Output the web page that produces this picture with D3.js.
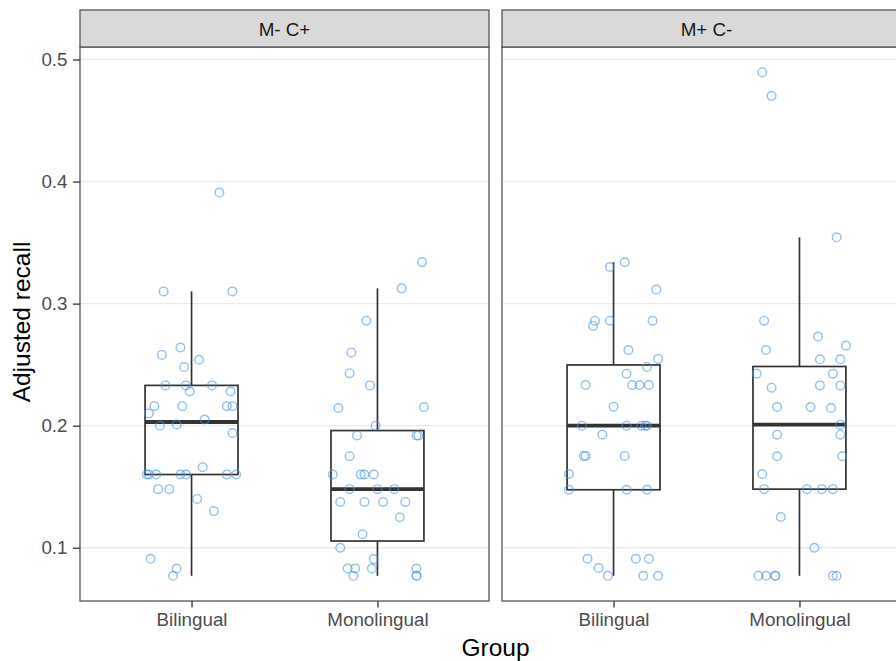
<!DOCTYPE html>
<html>
<head>
<meta charset="utf-8">
<script src="https://cdn.jsdelivr.net/npm/d3@7"></script>
<style>
  body { margin: 0; background: #fff; }
  text { font-family: "Liberation Sans", Arial, sans-serif; }
</style>
</head>
<body>
<svg id="chart" width="896" height="661"></svg>
<script>
const panels = ["M- C+", "M+ C-"];
const groups = ["Bilingual", "Monolingual"];
const yTicks = [0.1, 0.2, 0.3, 0.4, 0.5];

// recall values, with the horizontal jitter (in category units)
const mcBiValues = [0.391, 0.310, 0.310, 0.264, 0.258, 0.254, 0.248, 0.233, 0.233, 0.233, 0.228, 0.228,
  0.216, 0.216, 0.216, 0.216, 0.210, 0.205, 0.200, 0.201, 0.194, 0.166, 0.160, 0.160, 0.160, 0.160,
  0.160, 0.160, 0.160, 0.148, 0.148, 0.140, 0.130, 0.091, 0.083, 0.077];
const mcBiJitter = [0.15, -0.15, 0.22, -0.06, -0.16, 0.04, -0.04, -0.14, -0.03, 0.11, -0.01, 0.21,
  -0.20, -0.05, 0.19, 0.22, -0.23, 0.07, -0.17, -0.08, 0.22, 0.06, -0.24, -0.23, -0.19, -0.06,
  -0.03, 0.19, 0.24, -0.18, -0.12, 0.03, 0.12, -0.22, -0.08, -0.10];

const mcMonoValues = [0.334, 0.3125, 0.286, 0.260, 0.243, 0.233, 0.2145, 0.2153, 0.200, 0.192, 0.192, 0.192,
  0.175, 0.160, 0.160, 0.160, 0.160, 0.148, 0.148, 0.148, 0.1375, 0.1375, 0.1375, 0.1375, 0.125,
  0.111, 0.100, 0.0907, 0.083, 0.083, 0.083, 0.083, 0.077, 0.077, 0.077];
const mcMonoJitter = [0.24, 0.13, -0.06, -0.14, -0.15, -0.04, -0.21, 0.25, -0.01, -0.11, 0.21, 0.22,
  -0.15, -0.24, -0.09, -0.07, -0.02, -0.15, 0.00, 0.09, -0.20, -0.07, 0.03, 0.15, 0.12,
  -0.08, -0.20, -0.02, -0.16, -0.12, -0.03, 0.21, -0.13, 0.21, 0.21];

const cmBiValues = [0.3339, 0.330, 0.3115, 0.286, 0.2817, 0.286, 0.286, 0.262, 0.2547, 0.2481, 0.2426,
  0.2333, 0.2333, 0.2333, 0.2333, 0.2156, 0.200, 0.200, 0.200, 0.200, 0.200, 0.1926, 0.1752, 0.1752,
  0.1752, 0.1604, 0.1475, 0.1475, 0.1475, 0.091, 0.091, 0.091, 0.0834, 0.077, 0.077, 0.077];
const cmBiJitter = [0.06, -0.02, 0.23, -0.10, -0.11, -0.02, 0.21, 0.08, 0.24, 0.18, 0.07,
  -0.15, 0.10, 0.14, 0.19, 0.00, -0.17, 0.07, 0.15, 0.17, 0.18, -0.06, -0.16, -0.15,
  0.06, -0.24, -0.24, 0.07, 0.18, -0.14, 0.12, 0.19, -0.08, -0.03, 0.16, 0.24];

const cmMonoValues = [0.4896, 0.4702, 0.3543, 0.286, 0.273, 0.2656, 0.262, 0.2544, 0.2544, 0.2426, 0.2426,
  0.2311, 0.233, 0.233, 0.2153, 0.2153, 0.2145, 0.2008, 0.1926, 0.1926, 0.1749, 0.1749, 0.1604,
  0.148, 0.148, 0.148, 0.148, 0.1252, 0.100, 0.077, 0.077, 0.077, 0.077, 0.077, 0.077];
const cmMonoJitter = [-0.20, -0.15, 0.20, -0.19, 0.10, 0.25, -0.18, 0.11, 0.22, -0.23, 0.18,
  -0.15, 0.11, 0.22, -0.12, 0.06, 0.17, 0.22, -0.12, 0.22, -0.12, 0.23, -0.20,
  -0.19, 0.04, 0.12, 0.18, -0.10, 0.08, -0.22, -0.18, -0.13, -0.13, 0.18, 0.20];

const series = [
  [{ values: mcBiValues, jitter: mcBiJitter }, { values: mcMonoValues, jitter: mcMonoJitter }],
  [{ values: cmBiValues, jitter: cmBiJitter }, { values: cmMonoValues, jitter: cmMonoJitter }]
];

const svg = d3.select("#chart");
const panelLeft = [80, 502];
const panelWidth = 409;
const plotTop = 47, plotBottom = 601, stripTop = 10;
const tickFont = 18.8, titleFont = 24.5;

// y scale with ggplot-like 5% expansion
const all = series.flat().flatMap(s => s.values);
const [lo, hi] = d3.extent(all);
const pad = (hi - lo) * 0.05;
const y = d3.scaleLinear().domain([lo - pad, hi + pad]).range([plotBottom, plotTop]);

const x = d3.scalePoint().domain(groups).range([0, panelWidth]).padding(0.6);
const step = x.step();

function boxStats(vals) {
  const s = vals.slice().sort(d3.ascending);
  const q1 = d3.quantile(s, 0.25), med = d3.quantile(s, 0.5), q3 = d3.quantile(s, 0.75);
  const iqr = q3 - q1;
  const lowW = d3.min(s.filter(v => v >= q1 - 1.5 * iqr));
  const highW = d3.max(s.filter(v => v <= q3 + 1.5 * iqr));
  return { q1, med, q3, lowW, highW };
}

panels.forEach((name, p) => {
  const g = svg.append("g").attr("transform", `translate(${panelLeft[p]},0)`);

  // grid
  g.selectAll(".grid").data(yTicks).join("line")
    .attr("x1", 0).attr("x2", panelWidth)
    .attr("y1", d => y(d)).attr("y2", d => y(d))
    .attr("stroke", "#ebebeb").attr("stroke-width", 1.3);

  groups.forEach((grp, i) => {
    const d = series[p][i];
    const st = boxStats(d.values);
    const cx = x(grp);
    const bw = step * 0.5;
    const bg = g.append("g");
    bg.append("line").attr("x1", cx).attr("x2", cx).attr("y1", y(st.q3)).attr("y2", y(st.highW))
      .attr("stroke", "#333").attr("stroke-width", 1.7);
    bg.append("line").attr("x1", cx).attr("x2", cx).attr("y1", y(st.q1)).attr("y2", y(st.lowW))
      .attr("stroke", "#333").attr("stroke-width", 1.7);
    bg.append("rect").attr("x", cx - bw / 2).attr("width", bw)
      .attr("y", y(st.q3)).attr("height", y(st.q1) - y(st.q3))
      .attr("fill", "none").attr("stroke", "#333").attr("stroke-width", 1.7);
    bg.append("line").attr("x1", cx - bw / 2).attr("x2", cx + bw / 2)
      .attr("y1", y(st.med)).attr("y2", y(st.med))
      .attr("stroke", "#333").attr("stroke-width", 3.8);

    g.append("g").selectAll("circle").data(d.values).join("circle")
      .attr("cx", (v, k) => cx + d.jitter[k] * step)
      .attr("cy", v => y(v))
      .attr("r", 4.3)
      .attr("fill", "none")
      .attr("stroke", "#4a94e6")
      .attr("stroke-opacity", 0.6)
      .attr("stroke-width", 1.4);
  });

  // panel border
  g.append("rect").attr("x", 0).attr("y", plotTop).attr("width", panelWidth).attr("height", plotBottom - plotTop)
    .attr("fill", "none").attr("stroke", "#555").attr("stroke-width", 1.3);

  // strip
  g.append("rect").attr("x", 0).attr("y", stripTop).attr("width", panelWidth).attr("height", plotTop - stripTop)
    .attr("fill", "#d9d9d9").attr("stroke", "#555").attr("stroke-width", 1.3);
  g.append("text").attr("x", panelWidth / 2).attr("y", 35.5)
    .attr("text-anchor", "middle")
    .attr("font-size", tickFont).attr("fill", "#1a1a1a").text(name);

  // x axis
  const xa = g.append("g").attr("transform", `translate(0,${plotBottom})`)
    .call(d3.axisBottom(x).tickSize(6.5).tickPadding(5.5));
  xa.select(".domain").remove();
  xa.selectAll("line").attr("stroke", "#333").attr("stroke-width", 1.3);
  xa.selectAll("text").attr("font-size", tickFont).attr("fill", "#4d4d4d")
    .attr("font-family", "Liberation Sans, Arial, sans-serif");
});

// y axis
const ya = svg.append("g").attr("transform", `translate(${panelLeft[0]},0)`)
  .call(d3.axisLeft(y).tickValues(yTicks).tickFormat(d3.format(".1f")).tickSize(7).tickPadding(5.5));
ya.select(".domain").remove();
ya.selectAll("line").attr("stroke", "#333").attr("stroke-width", 1.3);
ya.selectAll("text").attr("font-size", tickFont).attr("fill", "#4d4d4d")
  .attr("font-family", "Liberation Sans, Arial, sans-serif");

// axis titles
svg.append("text").attr("x", (panelLeft[0] + panelLeft[1] + panelWidth) / 2).attr("y", 656)
  .attr("text-anchor", "middle").attr("font-size", titleFont).attr("fill", "#000").text("Group");
svg.append("text").attr("transform", `translate(30,${(plotTop + plotBottom) / 2 - 2}) rotate(-90)`)
  .attr("text-anchor", "middle").attr("font-size", titleFont).attr("fill", "#000").text("Adjusted recall");
</script>
</body>
</html>
